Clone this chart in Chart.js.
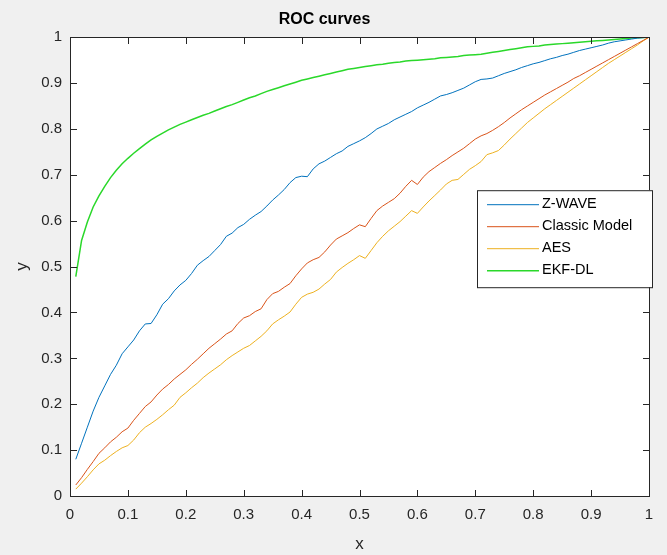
<!DOCTYPE html>
<html>
<head>
<meta charset="utf-8">
<script src="https://cdn.jsdelivr.net/npm/chart.js@4/dist/chart.umd.min.js"></script>
<style>
  html, body { margin: 0; padding: 0; background: #f0f0f0; }
  #wrap { width: 667px; height: 555px; }
</style>
</head>
<body>
<div id="wrap"><canvas id="rocChart"></canvas></div>
<script>
// false positive rate (x axis)
var xs = [];
for (var i = 1; i <= 100; i++) xs.push(i / 100);

// tick positions, same on both axes
var tickValues = [0, 0.1, 0.2, 0.3, 0.4, 0.5, 0.6, 0.7, 0.8, 0.9, 1];

var zwave = [0.080,0.115,0.150,0.185,0.215,0.240,0.265,0.285,0.310,0.325,
  0.340,0.360,0.375,0.376,0.395,0.418,0.430,0.447,0.460,0.470,
  0.485,0.503,0.513,0.522,0.535,0.548,0.566,0.573,0.585,0.592,
  0.603,0.612,0.620,0.632,0.645,0.656,0.668,0.683,0.694,0.697,
  0.696,0.713,0.724,0.730,0.738,0.746,0.752,0.762,0.768,0.774,
  0.781,0.790,0.800,0.806,0.812,0.820,0.826,0.832,0.838,0.846,
  0.852,0.858,0.865,0.872,0.875,0.879,0.884,0.889,0.896,0.903,
  0.908,0.909,0.911,0.916,0.921,0.925,0.929,0.934,0.938,0.942,
  0.945,0.949,0.953,0.956,0.960,0.963,0.967,0.971,0.974,0.977,
  0.980,0.983,0.987,0.990,0.992,0.994,0.996,0.998,0.999,1.000];

var classic = [0.024,0.040,0.058,0.075,0.093,0.105,0.118,0.128,0.140,0.148,
  0.165,0.180,0.195,0.205,0.220,0.233,0.243,0.255,0.265,0.275,
  0.287,0.298,0.310,0.322,0.332,0.342,0.353,0.360,0.376,0.388,
  0.393,0.402,0.408,0.428,0.441,0.446,0.455,0.463,0.480,0.495,
  0.508,0.515,0.520,0.532,0.547,0.560,0.567,0.574,0.583,0.591,
  0.587,0.605,0.622,0.632,0.640,0.648,0.660,0.675,0.688,0.679,
  0.695,0.707,0.716,0.725,0.733,0.742,0.750,0.758,0.768,0.778,
  0.785,0.790,0.797,0.805,0.814,0.824,0.833,0.842,0.850,0.858,
  0.866,0.874,0.881,0.888,0.895,0.902,0.910,0.916,0.923,0.930,
  0.937,0.944,0.951,0.958,0.965,0.972,0.979,0.986,0.993,1.000];

var aes = [0.015,0.028,0.042,0.057,0.070,0.078,0.088,0.097,0.105,0.110,
  0.122,0.138,0.150,0.158,0.167,0.177,0.188,0.198,0.215,0.225,
  0.236,0.246,0.258,0.268,0.277,0.286,0.297,0.306,0.314,0.322,
  0.328,0.338,0.348,0.360,0.375,0.384,0.392,0.401,0.418,0.433,
  0.440,0.444,0.451,0.462,0.472,0.488,0.498,0.507,0.515,0.524,
  0.518,0.535,0.552,0.566,0.578,0.588,0.598,0.610,0.622,0.616,
  0.630,0.643,0.655,0.667,0.680,0.688,0.690,0.701,0.712,0.720,
  0.729,0.744,0.748,0.753,0.765,0.778,0.790,0.802,0.814,0.824,
  0.834,0.844,0.853,0.862,0.871,0.880,0.889,0.898,0.907,0.916,
  0.925,0.934,0.943,0.951,0.959,0.967,0.975,0.983,0.992,1.000];

var ekfdl = [0.478,0.557,0.597,0.630,0.654,0.675,0.694,0.710,0.724,0.736,
  0.747,0.757,0.767,0.776,0.784,0.791,0.798,0.804,0.810,0.815,
  0.820,0.825,0.830,0.834,0.839,0.844,0.849,0.853,0.858,0.863,
  0.868,0.872,0.877,0.882,0.886,0.890,0.894,0.898,0.902,0.906,
  0.909,0.912,0.915,0.918,0.921,0.924,0.927,0.930,0.932,0.934,
  0.936,0.938,0.940,0.941,0.943,0.945,0.946,0.948,0.949,0.950,
  0.951,0.952,0.953,0.955,0.956,0.957,0.958,0.960,0.961,0.962,
  0.963,0.965,0.967,0.969,0.971,0.973,0.975,0.977,0.979,0.980,
  0.981,0.983,0.984,0.985,0.986,0.987,0.988,0.989,0.990,0.991,
  0.992,0.993,0.994,0.995,0.996,0.997,0.998,0.999,0.9995,1.000];

var seriesNames = ["Z-WAVE", "Classic Model", "AES", "EKF-DL"];
var seriesColors = ["#0072bd", "#d95319", "#edb120", "#2ad82a"];
var seriesData = [zwave, classic, aes, ekfdl];

var axisColor = "#262626";
var fontFamily = "'Liberation Sans', Arial, sans-serif";

function toPoints(arr) {
  return xs.map(function (x, i) { return { x: x, y: arr[i] }; });
}

function tickLabel(v) {
  return String(Number(Number(v).toFixed(1)));
}

// grey figure background + white axes
var bgPlugin = {
  id: "bg",
  beforeDraw: function (chart) {
    var c = chart.ctx, a = chart.chartArea;
    c.save();
    c.fillStyle = "#f0f0f0";
    c.fillRect(0, 0, chart.width, chart.height);
    c.fillStyle = "#ffffff";
    c.fillRect(a.left, a.top, a.right - a.left, a.bottom - a.top);
    c.restore();
  }
};

// box + inward ticks on all sides, then legend inside the axes
var boxPlugin = {
  id: "box",
  afterDraw: function (chart) {
    var c = chart.ctx, a = chart.chartArea;
    var sx = chart.scales.x, sy = chart.scales.y;
    var len = 6;
    var L = Math.round(a.left), R = Math.round(a.right);
    var T = Math.round(a.top), B = Math.round(a.bottom);
    c.save();
    c.strokeStyle = axisColor;
    c.lineWidth = 1;
    c.strokeRect(L + 0.5, T + 0.5, R - L, B - T);
    c.fillStyle = axisColor;
    tickValues.forEach(function (v) {
      var px = Math.round(sx.getPixelForValue(v));
      var py = Math.round(sy.getPixelForValue(v));
      c.fillRect(px, B - len, 1, len + 1);
      c.fillRect(px, T, 1, len + 1);
      c.fillRect(L, py, len + 1, 1);
      c.fillRect(R - len, py, len + 1, 1);
    });

    // legend
    var lx = a.right - 172, ly = a.top + 153, lw = 175, lh = 97;
    c.fillStyle = "#ffffff";
    c.fillRect(lx, ly, lw, lh);
    c.strokeStyle = axisColor;
    c.strokeRect(lx + 0.5, ly + 0.5, lw, lh);
    c.font = "14.5px " + fontFamily;
    c.textBaseline = "middle";
    c.textAlign = "left";
    seriesNames.forEach(function (name, i) {
      var y = ly + 14 + i * 22;
      c.strokeStyle = seriesColors[i];
      c.lineWidth = i === 3 ? 1.5 : 1;
      c.beginPath();
      c.moveTo(lx + 10, y + 0.5); c.lineTo(lx + 62, y + 0.5);
      c.stroke();
      c.fillStyle = "#000000";
      c.fillText(name, lx + 65, y);
    });
    c.restore();
  }
};

var ctx = document.getElementById("rocChart").getContext("2d");
var rocChart = new Chart(ctx, {
  type: "line",
  data: {
    datasets: seriesNames.map(function (name, i) {
      return {
        label: name,
        data: toPoints(seriesData[i]),
        borderColor: seriesColors[i],
        backgroundColor: seriesColors[i],
        borderWidth: i === 3 ? 1.5 : 1,
        pointRadius: 0,
        tension: 0,
        fill: false
      };
    })
  },
  options: {
    responsive: true,
    maintainAspectRatio: false,
    animation: false,
    layout: { padding: { left: 0, right: 18, top: 0, bottom: 0 } },
    plugins: {
      legend: { display: false },
      tooltip: { enabled: false },
      title: {
        display: true,
        text: "ROC curves",
        color: "#000000",
        font: { family: fontFamily, size: 16, weight: "bold" },
        padding: { top: 10, bottom: 8 }
      }
    },
    scales: {
      x: {
        type: "linear",
        min: 0,
        max: 1,
        afterBuildTicks: function (scale) {
          scale.ticks = tickValues.map(function (v) { return { value: v }; });
        },
        ticks: {
          color: axisColor,
          font: { family: fontFamily, size: 15 },
          padding: 10,
          maxRotation: 0,
          callback: tickLabel
        },
        grid: { display: false, drawTicks: false },
        border: { display: true, color: axisColor },
        title: {
          display: true,
          text: "x",
          color: axisColor,
          font: { family: fontFamily, size: 17 },
          padding: { top: 4, bottom: 0 }
        },
        afterFit: function (scale) { scale.height = 59; }
      },
      y: {
        type: "linear",
        min: 0,
        max: 1,
        afterBuildTicks: function (scale) {
          scale.ticks = tickValues.map(function (v) { return { value: v }; });
        },
        ticks: {
          color: axisColor,
          font: { family: fontFamily, size: 15 },
          padding: 8,
          callback: tickLabel
        },
        grid: { display: false, drawTicks: false },
        border: { display: true, color: axisColor },
        title: {
          display: true,
          text: "y",
          color: axisColor,
          font: { family: fontFamily, size: 17 },
          padding: { top: 12, bottom: 8 }
        },
        afterFit: function (scale) { scale.width = 70; }
      }
    }
  },
  plugins: [bgPlugin, boxPlugin]
});
</script>
</body>
</html>
